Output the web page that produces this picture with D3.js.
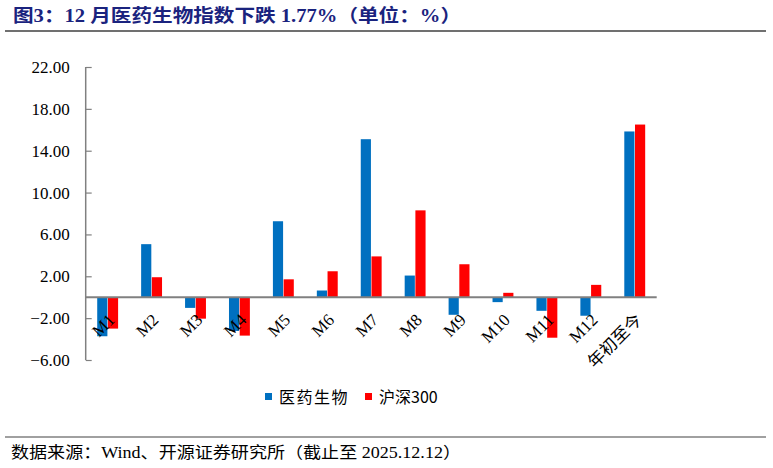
<!DOCTYPE html>
<html>
<head>
<meta charset="utf-8">
<script src="https://cdn.jsdelivr.net/npm/d3@7"></script>
<style>
  body { margin: 0; background: #fff; }
  svg { display: block; }
</style>
</head>
<body>
<script>
var categories = ["M1", "M2", "M3", "M4", "M5", "M6", "M7", "M8", "M9", "M10", "M11", "M12", "年初至今"];
var seriesNames = ["医药生物", "沪深300"];
var pharmaValues = [-3.73, 5.07, -1.02, -3.22, 7.26, 0.64, 15.10, 2.07, -1.68, -0.47, -1.30, -1.77, 15.84];
var csiValues = [-3.00, 1.91, -2.05, -3.67, 1.71, 2.48, 3.90, 8.30, 3.15, 0.42, -3.87, 1.18, 16.50];
var yTicks = [-6, -2, 2, 6, 10, 14, 18, 22];
var colors = ["#0070C0", "#FF0000"];

var width = 773, height = 468;
var svg = d3.select("body").append("svg").attr("width", width).attr("height", height);

var serifFont = "'Liberation Serif', 'Times New Roman', 'Noto Sans CJK SC', serif";

// title and rules
svg.append("text")
      .attr("x", 13).attr("y", 22)
      .attr("fill", "#1a237e")
      .attr("font-family", serifFont)
      .attr("font-weight", "bold")
      .attr("font-size", 18)
      .attr("textLength", 448).attr("lengthAdjust", "spacingAndGlyphs")
      .text("图3：12 月医药生物指数下跌 1.77%（单位：%）");

svg.append("line").attr("x1", 5).attr("x2", 766).attr("y1", 31).attr("y2", 31)
      .attr("stroke", "#404040").attr("stroke-width", 1.5);
svg.append("line").attr("x1", 5).attr("x2", 766).attr("y1", 437).attr("y2", 437)
      .attr("stroke", "#808080").attr("stroke-width", 1.5);

svg.append("text")
      .attr("x", 11).attr("y", 458)
      .attr("fill", "#000")
      .attr("font-family", serifFont)
      .attr("font-size", 16)
      .attr("textLength", 450).attr("lengthAdjust", "spacingAndGlyphs")
      .text("数据来源：Wind、开源证券研究所（截止至 2025.12.12）");

// scales
var x = d3.scaleBand().domain(categories).range([85.7, 656.7]).paddingInner(0.5).paddingOuter(0.25);
var xs = d3.scaleBand().domain(seriesNames).range([0, x.bandwidth()]).padding(0.05);
var y = d3.scaleLinear().domain([-6, 22]).range([360, 67]);

// y axis
var yAxis = d3.axisLeft(y).tickValues(yTicks).tickFormat(d3.format(".2f")).tickSize(-6).tickPadding(16);
var gy = svg.append("g").attr("transform", "translate(85.7,0)").call(yAxis);
gy.select(".domain").attr("stroke", "#808080").attr("stroke-width", 1.5).attr("d", "M0," + y(22) + "V" + y(-6));
gy.selectAll(".tick line").attr("stroke", "#808080").attr("stroke-width", 1.2);
gy.selectAll(".tick text").attr("font-family", serifFont).attr("font-size", 17).attr("fill", "#000");

// bars
var rows = categories.map(function (c, i) { return { cat: c, vals: [pharmaValues[i], csiValues[i]] }; });

var groups = svg.selectAll("g.cat")
      .data(rows)
      .enter().append("g")
      .attr("class", "cat")
      .attr("transform", function (d) { return "translate(" + x(d.cat) + ",0)"; });

groups.selectAll("rect")
      .data(function (d) { return d.vals.map(function (v, j) { return { s: seriesNames[j], v: v, j: j }; }); })
      .enter().append("rect")
      .attr("x", function (d) { return xs(d.s); })
      .attr("width", xs.bandwidth())
      .attr("y", function (d) { return y(Math.max(0, d.v)); })
      .attr("height", function (d) { return Math.abs(y(d.v) - y(0)); })
      .attr("fill", function (d) { return colors[d.j]; });

// zero line
svg.append("line")
      .attr("x1", 85.7).attr("x2", 656.7)
      .attr("y1", y(0)).attr("y2", y(0))
      .attr("stroke", "#808080").attr("stroke-width", 2);

// category labels
svg.selectAll("text.cat")
      .data(categories)
      .enter().append("text")
      .attr("class", "cat")
      .attr("transform", function (d) { return "translate(" + (x(d) + x.bandwidth() / 2 + 8) + "," + 321 + ") rotate(-45)"; })
      .attr("text-anchor", "end")
      .attr("font-family", serifFont)
      .attr("font-size", 17)
      .attr("fill", "#000")
      .text(function (d) { return d; });

// legend
var legend = svg.append("g").attr("transform", "translate(265,0)");
var legendX = [0, 100];
seriesNames.forEach(function (name, i) {
  legend.append("rect").attr("x", legendX[i]).attr("y", 393).attr("width", 7).attr("height", 7).attr("fill", colors[i]);
  legend.append("text")
        .attr("x", legendX[i] + 14).attr("y", 403)
        .attr("font-family", "'Noto Sans CJK SC', 'Liberation Sans', sans-serif")
        .attr("font-size", 16)
        .attr("letter-spacing", i === 0 ? 1.5 : 0)
        .attr("fill", "#000")
        .text(name);
});
</script>
</body>
</html>
